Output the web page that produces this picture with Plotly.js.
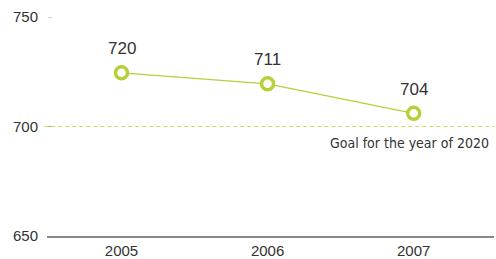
<!DOCTYPE html>
<html><head><meta charset="utf-8">
<script src="https://cdn.plot.ly/plotly-3.0.1.min.js"></script>
<style>html,body{margin:0;padding:0;background:#fff;}#chart{width:496px;height:259px;}</style>
</head><body><div id="chart"></div>
<script>
const years = [2005, 2006, 2007];
const values = [724.5, 719.5, 706];          // plotted positions
const valueLabels = ["720", "711", "704"];   // printed labels
const goalValue = 700;
const goalLabel = "Goal for the year of 2020";
const yTicks = [650, 700, 750];

const green = "#b4d03a";
const trace = {
  x: years, y: values, type: "scatter", mode: "lines+markers",
  line: {color: green, width: 1.2},
  marker: {symbol: "circle", size: 12, color: "#fff", line: {color: green, width: 3.5}},
  hoverinfo: "skip", cliponaxis: false
};
const annotations = years.map((yr, i) => ({
  x: yr, y: values[i], xref: "x", yref: "y", text: valueLabels[i], showarrow: false,
  yshift: 24, font: {family: "Liberation Sans, Arial, sans-serif", size: 17, color: "#333"}
}));
annotations.push({
  x: 1, xref: "paper", y: goalValue, yref: "y", xanchor: "right", yanchor: "top", yshift: -6, xshift: -3,
  text: goalLabel, showarrow: false,
  font: {family: "DejaVu Sans Condensed, DejaVu Sans, sans-serif", size: 14, color: "#333"}
});
const tickShapes = yTicks.filter(v => v !== 650).map(v => ({
  type: "line", xref: "paper", x0: 0.002, x1: 0.012, yref: "y", y0: v, y1: v,
  line: {color: "#aaa", width: 1}, layer: "below"
}));
const layout = {
  width: 496, height: 259, margin: {l: 47, r: 2, t: 17, b: 23},
  paper_bgcolor: "#fff", plot_bgcolor: "#fff", showlegend: false,
  xaxis: {range: [2004.49, 2007.55], tickvals: years, ticktext: years.map(String),
    showgrid: false, zeroline: false, showline: true, linecolor: "#888", linewidth: 2,
    ticks: "", tickfont: {family: "Liberation Sans, Arial, sans-serif", size: 15, color: "#333"}},
  yaxis: {range: [650, 750], tickvals: yTicks, showgrid: false, zeroline: false, showline: false,
    ticks: "", ticklabelstandoff: 8,
    tickfont: {family: "Liberation Sans, Arial, sans-serif", size: 15, color: "#333"}},
  shapes: tickShapes.concat([{type: "line", xref: "paper", x0: -0.006, x1: 1, yref: "y", y0: goalValue, y1: goalValue,
    line: {color: "#cadd6a", width: 1.2, dash: "4px,3px"}, layer: "below"}]),
  annotations: annotations
};
Plotly.newPlot("chart", [trace], layout, {displayModeBar: false, staticPlot: true});
</script></body></html>
